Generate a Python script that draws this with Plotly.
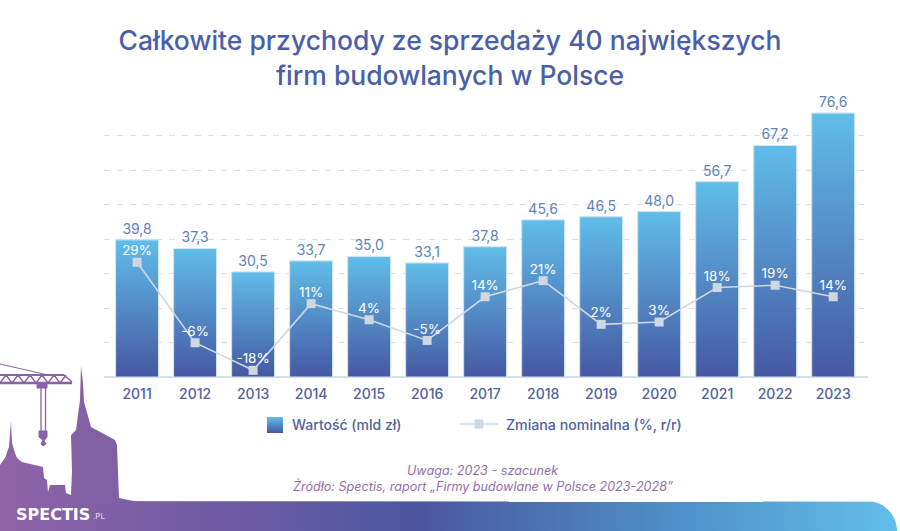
import numpy as np
import plotly.graph_objects as go

# dane
years = [2011, 2012, 2013, 2014, 2015, 2016, 2017, 2018, 2019, 2020, 2021, 2022, 2023]
wartosc = [39.8, 37.3, 30.5, 33.7, 35.0, 33.1, 37.8, 45.6, 46.5, 48.0, 56.7, 67.2, 76.6]
zmiana = [29, -6, -18, 11, 4, -5, 14, 21, 2, 3, 18, 19, 14]
grid_vals = [0, 10, 20, 30, 40, 50, 60, 70]

BAR_W = 0.74
FONT = "Inter"
BLUE_TEXT = "#5b84bf"
NAVY_TEXT = "#4f62a0"
PURPLE = "#8a62a6"
LINE_C = "#cfd7e3"
BAR_SCALE = [[0, "#4558a3"], [1, "#60bde9"]]

fig = go.Figure()

# slupki (etykiety wartosci) + gradient na wierzchu
fig.add_trace(go.Bar(
    x=years, y=wartosc, width=BAR_W, name="Wartość (mld zł)",
    marker=dict(color="#4f8ac6", line=dict(color="#d3e7f5", width=1)),
    text=[f"{v:.1f}".replace(".", ",") for v in wartosc],
    textposition="outside", cliponaxis=False,
    textfont=dict(family=FONT, size=14, color=BLUE_TEXT),
    showlegend=False,
))
for yr, val in zip(years, wartosc):
    x0, x1 = yr - BAR_W / 2, yr + BAR_W / 2
    fig.add_trace(go.Scatter(
        x=[x0, x1, x1, x0, x0], y=[0, 0, val, val, 0],
        mode="lines", fill="toself",
        fillgradient=dict(type="vertical", colorscale=BAR_SCALE),
        line=dict(color="#d3e7f5", width=1),
        hoverinfo="skip", showlegend=False,
    ))

# linia zmiany r/r
fig.add_trace(go.Scatter(
    x=years, y=zmiana, yaxis="y2", name="Zmiana nominalna (%, r/r)",
    mode="lines+markers",
    line=dict(color=LINE_C, width=1.6),
    marker=dict(symbol="square", size=9, color=LINE_C),
    showlegend=False,
))
# etykiety osobno, niewidoczny mniejszy marker ustawia odstep od punktu
fig.add_trace(go.Scatter(
    x=years, y=zmiana, yaxis="y2", mode="markers+text",
    marker=dict(size=4, opacity=0),
    text=[f"{v}%" for v in zmiana], textposition="top center",
    textfont=dict(family=FONT, size=13.5, color="white"),
    hoverinfo="skip", showlegend=False,
))

# --- dekoracje w pikselach (os x3/y3) ---
def px(xs, ys, **kw):
    fig.add_trace(go.Scatter(x=xs, y=ys, xaxis="x3", yaxis="y3", hoverinfo="skip",
                             showlegend=False, **kw))

# pasek na dole z zaokragleniem
arc = np.linspace(-np.pi / 2, 0, 16)
band_x = [0] + list(867 + 30 * np.cos(arc)) + [897, 0, 0]
band_y = [501] + list(531 + 30 * np.sin(arc)) + [531, 531, 501]
px(band_x, band_y, mode="lines", fill="toself", line=dict(width=0, color="rgba(0,0,0,0)"),
   fillgradient=dict(type="horizontal", colorscale=[
       [0, "#8f63a8"], [0.28, "#6a5aa2"], [0.47, "#4a57a0"], [0.78, "#4f95cd"], [1, "#63bee9"]]))

# panorama miasta
sky_x = [0, 0, 5, 7, 9, 11, 12, 15, 17, 22, 43, 44, 47, 48, 50, 65, 66, 71, 72, 71, 76, 77, 80, 81,
         83, 84, 88, 91, 115, 117, 119, 138, 0]
sky_y = [502, 465, 458, 453, 447, 421, 443, 453, 458, 462, 467, 478, 480, 492, 485, 485, 493, 495,
         470, 435, 430, 422, 400, 366, 383, 402, 418, 427, 440, 445, 498, 502, 502]
px(sky_x, sky_y, mode="lines", fill="toself", line=dict(width=0, color=PURPLE),
   fillgradient=dict(type="horizontal", colorscale=[[0, "#8f63a8"], [1, "#7d5fa4"]]))

# zuraw
for xs, ys, w in [
    ([0, 48], [364, 375], 1),
    ([0, 64], [375, 375], 1.8),
    ([0, 72], [383, 383], 2.4),
    ([0, 6, 12, 18, 24, 30, 36, 42, 48, 54, 60, 66], [383, 375, 383, 375, 383, 375, 383, 375, 383, 375, 383, 375], 1.4),
    ([64, 72], [375, 382], 1.4),
    ([41, 41], [387, 431], 1.3),
    ([45.5, 45.5], [387, 431], 1.3),
]:
    px(xs, ys, mode="lines", line=dict(color=PURPLE, width=w))
px([37, 47, 47, 37, 37], [383, 383, 388, 388, 383], mode="lines", fill="toself",
   fillcolor=PURPLE, line=dict(color=PURPLE, width=1))
px([39, 47, 47, 44, 46, 43, 41, 43, 39, 39], [431, 431, 437, 441, 444, 446, 444, 440, 437, 431],
   mode="lines", fill="toself", fillcolor=PURPLE, line=dict(color=PURPLE, width=1))

# legenda
px([267, 283, 283, 267, 267], [417, 417, 433, 433, 417], mode="lines", fill="toself",
   fillgradient=dict(type="vertical", colorscale=BAR_SCALE), line=dict(width=0, color="#4f8ac6"))
px([460, 498], [424, 424], mode="lines", line=dict(color=LINE_C, width=1.6))
px([479], [424], mode="markers", marker=dict(symbol="square", size=9, color=LINE_C))

annots = [
    dict(x=290, y=424, text="Wartość (mld zł)", xanchor="left", font=dict(size=14, color=NAVY_TEXT, weight=500)),
    dict(x=504, y=424, text="Zmiana nominalna (%, r/r)", xanchor="left", font=dict(size=14.2, color=NAVY_TEXT, weight=500)),
    dict(x=483, y=470, text="<i>Uwaga: 2023 - szacunek</i>", font=dict(size=12.6, color="#9070a8")),
    dict(x=483, y=486, text="<i>Źródło: Spectis, raport „Firmy budowlane w Polsce 2023-2028”</i>",
         font=dict(size=12.6, color="#9070a8")),
    dict(x=14, y=514, text="<b>SPECTIS</b>", xanchor="left",
         font=dict(family="DejaVu Sans", size=16, color="white")),
    dict(x=91, y=516, text=".PL", xanchor="left", font=dict(size=8, color="#e6dcef")),
]
for a in annots:
    a.setdefault("xanchor", "center")
    a["font"].setdefault("family", FONT)
    fig.add_annotation(xref="x3", yref="y3", yanchor="middle", showarrow=False, **a)

fig.update_layout(
    width=900, height=531,
    margin=dict(l=0, r=0, t=0, b=0),
    paper_bgcolor="white", plot_bgcolor="rgba(0,0,0,0)",
    title=dict(
        text="Całkowite przychody ze sprzedaży 40 największych<br>firm budowlanych w Polsce",
        x=0.5, xanchor="center", y=0.905, yanchor="bottom",
        font=dict(family=FONT, size=26.5, color="#4a5fa8", weight=500),
    ),
    xaxis=dict(
        domain=[104 / 900, 868 / 900], range=[2010.43, 2023.6],
        tickvals=years, ticks="outside", ticklen=4, tickcolor="rgba(0,0,0,0)",
        showgrid=False, zeroline=False, showline=False,
        tickfont=dict(family=FONT, size=14, color=NAVY_TEXT, weight=500),
    ),
    yaxis=dict(
        domain=[154 / 531, 441 / 531], range=[0, 83.3],
        tickvals=grid_vals, showticklabels=False, ticks="",
        showgrid=True, gridcolor="#dddddd", griddash="6px,7px", gridwidth=1,
        zeroline=True, zerolinecolor="#d5dde8", zerolinewidth=2,
    ),
    yaxis2=dict(overlaying="y", range=[-20.9, 103.9], visible=False),
    xaxis3=dict(domain=[0, 1], range=[0, 900], visible=False, anchor="y3"),
    yaxis3=dict(domain=[0, 1], range=[531, 0], visible=False, anchor="x3"),
)

fig.write_html("out.html", config=dict(displayModeBar=False),
               post_script="document.body.style.margin='0';")
